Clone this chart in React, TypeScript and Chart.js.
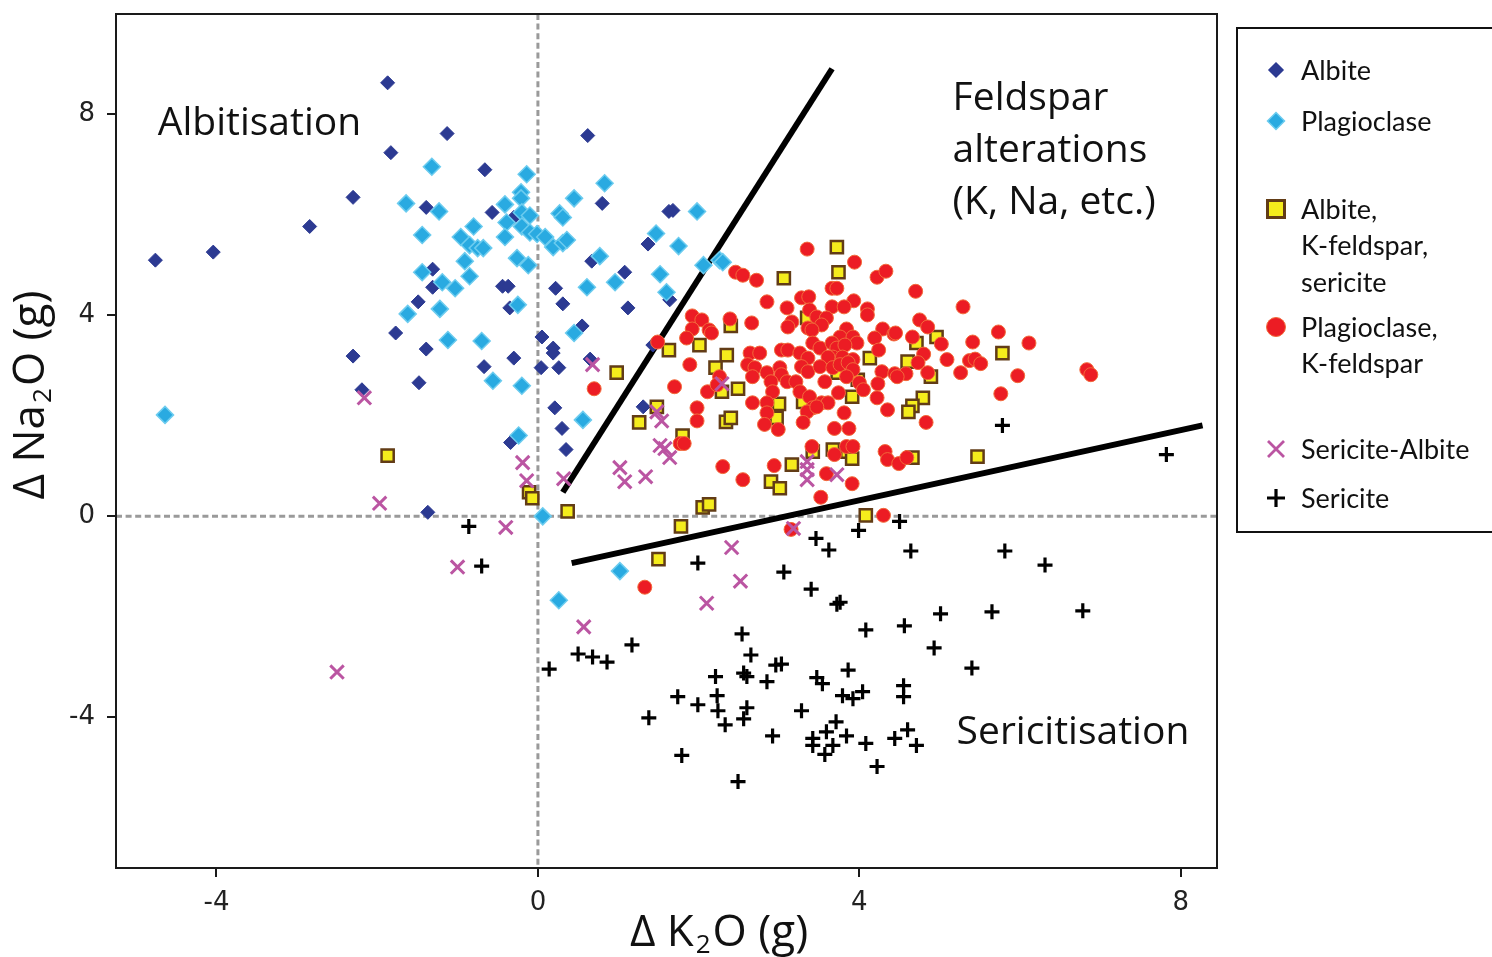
import React, { useEffect, useRef } from "react";
import { Chart, registerables } from "chart.js";

Chart.register(...registerables);

type P = [number, number];

const X_RANGE: P = [-5.25, 8.45];
const Y_RANGE: P = [-7, 10];
const X_TICKS = [-4, 0, 4, 8];
const Y_TICKS = [-4, 0, 4, 8];
const X_TITLE = ["Δ K", "2", "O (g)"];
const Y_TITLE = ["Δ Na", "2", "O (g)"];

const albite: P[] = [
  [-4.76, 5.1], [-4.04, 5.26], [-2.84, 5.77], [-2.3, 6.35], [-1.87, 8.63], [-1.83, 7.24], [-1.13, 7.62],
  [-1.39, 6.15], [-0.66, 6.9], [-0.57, 6.05], [-2.3, 3.19], [-2.19, 2.52], [-1.77, 3.65], [-1.49, 4.27],
  [-1.31, 4.92], [-1.39, 3.33], [-1.48, 2.66], [-1.37, 0.08], [-0.67, 2.98], [-0.3, 5.95], [-1.31, 4.56],
  [-0.44, 4.58], [-0.37, 4.58], [-0.35, 4.15], [0.62, 7.58], [0.8, 6.23], [1.63, 6.07], [1.68, 6.09],
  [1.37, 5.42], [0.67, 5.08], [1.08, 4.86], [0.22, 4.54], [0.31, 4.23], [1.12, 4.15], [1.64, 4.31],
  [0.05, 3.57], [0.19, 3.35], [0.19, 3.25], [0.55, 3.79], [-0.3, 3.15], [0.04, 2.96], [0.26, 2.96],
  [0.65, 3.13], [0.21, 2.16], [0.3, 1.75], [0.35, 1.33], [-0.34, 1.47], [1.31, 2.18], [1.43, 3.41],
];

const plagioclase: P[] = [
  [-1.64, 6.23], [-1.32, 6.96], [-0.14, 6.81], [-0.21, 6.45], [-0.21, 6.33], [-1.23, 6.07], [-0.41, 6.21],
  [-0.2, 6.05], [-0.1, 5.99], [-0.39, 5.85], [-0.2, 5.77], [-0.1, 5.65], [-0.01, 5.62], [0.09, 5.56],
  [0.19, 5.36], [0.31, 5.44], [0.36, 5.5], [0.27, 6.03], [0.31, 5.95], [0.45, 6.33], [0.83, 6.63],
  [1.98, 6.07], [1.47, 5.63], [1.75, 5.38], [-1.44, 5.6], [-0.8, 5.77], [-0.96, 5.56], [-0.85, 5.4],
  [-0.75, 5.34], [-0.68, 5.34], [-0.41, 5.56], [-0.26, 5.14], [-0.12, 5.0], [-0.91, 5.08], [0.77, 5.18],
  [-1.44, 4.86], [-0.85, 4.78], [-1.19, 4.66], [-1.03, 4.54], [0.61, 4.56], [0.96, 4.66], [1.52, 4.82],
  [1.6, 4.46], [-1.22, 4.13], [-0.25, 4.21], [-1.62, 4.03], [2.06, 5.0], [2.26, 5.1], [2.3, 5.06],
  [-1.12, 3.51], [-0.7, 3.49], [-0.56, 2.7], [-0.2, 2.6], [0.45, 3.65], [0.56, 1.92], [-0.24, 1.61],
  [0.06, 0.0], [1.02, -1.09], [0.26, -1.67], [-4.64, 2.02],
];

const albiteKfsSericite: P[] = [
  [3.72, 5.36], [3.74, 4.86], [3.06, 4.74], [2.4, 3.79], [3.35, 3.95], [1.63, 3.31], [2.01, 3.41],
  [2.35, 3.21], [2.21, 2.96], [2.49, 2.54], [2.29, 2.48], [3.0, 2.24], [2.97, 1.96], [3.3, 2.28],
  [2.34, 1.88], [2.4, 1.96], [4.13, 3.15], [3.73, 2.86], [3.98, 2.72], [3.91, 2.38], [1.8, 1.61],
  [1.48, 2.18], [1.26, 1.87], [3.16, 1.03], [3.42, 1.29], [3.67, 1.33], [3.85, 1.29], [3.91, 1.15],
  [2.9, 0.69], [3.01, 0.56], [4.71, 3.45], [4.96, 3.57], [4.6, 3.08], [4.89, 2.78], [4.79, 2.36],
  [4.66, 2.2], [4.61, 2.08], [5.78, 3.25], [4.66, 1.17], [5.47, 1.19], [-1.87, 1.21], [-0.11, 0.48],
  [-0.07, 0.36], [0.37, 0.1], [2.05, 0.18], [2.13, 0.24], [1.78, -0.2], [1.5, -0.85], [4.08, 0.02],
  [0.98, 2.86],
];

const plagioclaseKfs: P[] = [
  [3.35, 5.32], [3.94, 5.06], [4.22, 4.76], [4.33, 4.88], [2.46, 4.86], [2.55, 4.8], [2.72, 4.7],
  [2.85, 4.27], [3.1, 4.15], [3.28, 4.35], [3.37, 4.37], [3.66, 4.54], [3.72, 4.54], [3.93, 4.29],
  [3.66, 4.17], [3.81, 4.17], [4.1, 4.13], [4.1, 4.01], [1.92, 3.99], [2.04, 3.91], [2.39, 3.93],
  [2.66, 3.85], [3.16, 3.87], [3.11, 3.77], [3.38, 4.11], [3.47, 3.97], [3.59, 3.95], [3.36, 3.75],
  [3.53, 3.81], [3.41, 3.71], [3.84, 3.73], [3.76, 3.57], [3.92, 3.57], [3.97, 3.45], [4.29, 3.73],
  [4.19, 3.55], [4.24, 3.31], [4.43, 3.63], [1.92, 3.73], [1.85, 3.55], [2.13, 3.71], [2.16, 3.65],
  [3.42, 3.45], [3.51, 3.35], [3.66, 3.45], [3.72, 3.35], [3.82, 3.41], [3.67, 3.17], [3.79, 3.17],
  [3.61, 3.17], [3.92, 3.12], [3.03, 3.31], [3.11, 3.31], [3.26, 3.25], [3.36, 3.15], [2.64, 3.25],
  [2.76, 3.25], [2.61, 3.02], [2.7, 2.96], [2.85, 2.86], [3.01, 2.96], [3.03, 2.82], [3.28, 2.98],
  [3.36, 2.88], [3.51, 2.98], [3.67, 2.96], [3.76, 3.02], [3.86, 3.06], [3.92, 2.92], [4.0, 2.66],
  [3.84, 2.78], [4.28, 2.88], [4.23, 2.64], [4.22, 2.36], [4.44, 2.84], [4.35, 2.12], [2.67, 2.78],
  [2.9, 2.68], [3.1, 2.68], [3.21, 2.68], [3.26, 2.48], [3.57, 2.68], [3.74, 2.46], [2.92, 2.48],
  [3.38, 2.38], [3.53, 2.26], [3.42, 2.16], [3.35, 2.08], [3.61, 2.26], [3.81, 2.06], [2.67, 2.26],
  [2.85, 2.26], [2.85, 2.06], [2.82, 1.83], [2.99, 1.73], [3.3, 1.87], [3.69, 1.75], [3.87, 1.75],
  [1.89, 3.02], [1.7, 2.58], [2.11, 2.48], [2.26, 2.78], [2.23, 2.62], [1.98, 2.16], [1.98, 1.9],
  [1.77, 1.45], [1.82, 1.45], [1.49, 3.47], [3.41, 1.39], [3.69, 1.23], [3.84, 1.39], [3.92, 1.39],
  [4.32, 1.29], [4.35, 1.13], [2.94, 1.01], [2.3, 0.99], [2.55, 0.73], [3.91, 0.65], [4.7, 4.48],
  [5.29, 4.17], [4.75, 3.91], [4.85, 3.77], [4.45, 3.65], [4.66, 3.57], [5.02, 3.43], [5.41, 3.47],
  [5.73, 3.67], [6.11, 3.45], [4.8, 3.23], [5.09, 3.12], [5.37, 3.1], [5.44, 3.13], [5.51, 3.04],
  [4.73, 3.06], [4.58, 2.84], [4.47, 2.78], [4.85, 2.86], [5.26, 2.86], [5.97, 2.8], [4.05, 2.52],
  [5.76, 2.44], [6.83, 2.92], [6.88, 2.82], [4.83, 1.87], [4.49, 1.05], [4.59, 1.17], [0.7, 2.54],
  [3.47, 2.18], [4.3, 0.02], [3.15, -0.26], [1.33, -1.41], [3.52, 0.38], [3.59, 0.85],
];

const sericiteAlbite: P[] = [
  [-2.16, 2.36], [-1.97, 0.26], [-2.5, -3.1], [-1.0, -1.01], [-0.4, -0.22], [-0.19, 1.07], [-0.14, 0.71],
  [0.32, 0.75], [0.68, 3.02], [1.02, 0.97], [1.08, 0.69], [1.34, 0.79], [1.48, 2.08], [1.54, 1.9],
  [1.52, 1.41], [1.58, 1.35], [1.64, 1.17], [2.29, 2.64], [3.35, 1.09], [3.35, 0.93], [3.35, 0.73],
  [3.72, 0.83], [3.18, -0.24], [2.41, -0.62], [2.52, -1.29], [2.1, -1.73], [0.57, -2.2],
];

const sericite: P[] = [
  [-0.86, -0.2], [-0.7, -0.99], [0.14, -3.04], [0.5, -2.74], [0.68, -2.8], [0.86, -2.9], [1.17, -2.56],
  [1.38, -4.01], [1.74, -3.59], [1.99, -3.75], [1.99, -0.93], [2.21, -3.19], [2.23, -3.57], [2.24, -3.87],
  [2.33, -4.15], [1.79, -4.76], [2.54, -2.34], [2.65, -2.76], [2.56, -3.12], [2.6, -3.19], [2.85, -3.29],
  [2.96, -2.96], [2.6, -3.81], [2.56, -4.03], [2.92, -4.37], [2.49, -5.28], [3.06, -1.11], [3.4, -1.45],
  [3.46, -0.44], [3.62, -0.67], [3.72, -1.75], [3.76, -1.71], [3.99, -0.28], [4.5, -0.1], [4.64, -0.69],
  [5.78, 1.81], [7.82, 1.23], [5.81, -0.69], [6.31, -0.97], [6.78, -1.88], [5.65, -1.9], [5.01, -1.94],
  [4.08, -2.26], [4.56, -2.18], [4.93, -2.62], [5.4, -3.02], [3.86, -3.06], [3.03, -2.94], [3.47, -3.21],
  [3.54, -3.33], [3.79, -3.57], [3.92, -3.63], [4.04, -3.49], [4.55, -3.37], [4.55, -3.59], [3.28, -3.87],
  [3.71, -4.09], [3.42, -4.42], [3.59, -4.29], [3.84, -4.37], [3.42, -4.56], [3.67, -4.56], [3.57, -4.74],
  [4.08, -4.52], [4.44, -4.42], [4.6, -4.25], [4.71, -4.56], [4.22, -4.98],
];

const boundaryUpper: P[] = [[0.31, 0.48], [3.66, 8.91]];
const boundaryLower: P[] = [[0.42, -0.93], [8.27, 1.81]];

const regionLabels: { lines: string[]; at: P }[] = [
  { lines: ["Albitisation"], at: [-4.73, 7.6] },
  { lines: ["Feldspar", "alterations", "(K, Na, etc.)"], at: [5.16, 8.08] },
  { lines: ["Sericitisation"], at: [5.21, -4.54] },
];

const legendItems = [
  { kind: "albite", lines: ["Albite"] },
  { kind: "plag", lines: ["Plagioclase"] },
  { kind: "square", lines: ["Albite,", "K-feldspar,", "sericite"] },
  { kind: "circle", lines: ["Plagioclase,", "K-feldspar"] },
  { kind: "x", lines: ["Sericite-Albite"] },
  { kind: "plus", lines: ["Sericite"] },
];

const toXY = (arr: P[]) => arr.map(([x, y]) => ({ x, y }));

const STY = {
  albite: { fill: "#2c3a92", stroke: "#2c3a92" },
  plag: { fill: "#29aae1", stroke: "#6cccef" },
  square: { fill: "#f5ec1c", stroke: "#623c16" },
  circle: { fill: "#ec1c24", stroke: "#f26a3a" },
  x: { stroke: "#bb55a2" },
  plus: { stroke: "#000" },
};

function drawMarker(ctx: CanvasRenderingContext2D, kind: string, x: number, y: number) {
  ctx.save();
  ctx.beginPath();
  if (kind === "albite" || kind === "plag") {
    const r = kind === "albite" ? 7 : 8.5;
    ctx.moveTo(x, y - r); ctx.lineTo(x + r, y); ctx.lineTo(x, y + r); ctx.lineTo(x - r, y); ctx.closePath();
    const s = (STY as any)[kind];
    ctx.fillStyle = s.fill; ctx.fill();
    ctx.lineWidth = 1.5; ctx.strokeStyle = s.stroke; ctx.stroke();
  } else if (kind === "square") {
    const h = 8.5;
    ctx.rect(x - h, y - h, 2 * h, 2 * h);
    ctx.fillStyle = STY.square.fill; ctx.fill();
    ctx.lineWidth = 3; ctx.strokeStyle = STY.square.stroke; ctx.stroke();
  } else if (kind === "circle") {
    ctx.arc(x, y, 9.5, 0, Math.PI * 2);
    ctx.fillStyle = STY.circle.fill; ctx.fill();
    ctx.lineWidth = 1; ctx.strokeStyle = STY.circle.stroke; ctx.stroke();
  } else if (kind === "x") {
    const h = 8;
    ctx.moveTo(x - h, y - h); ctx.lineTo(x + h, y + h); ctx.moveTo(x + h, y - h); ctx.lineTo(x - h, y + h);
    ctx.lineWidth = 2.8; ctx.strokeStyle = STY.x.stroke; ctx.stroke();
  } else {
    const h = 9;
    ctx.moveTo(x - h, y); ctx.lineTo(x + h, y); ctx.moveTo(x, y - h); ctx.lineTo(x, y + h);
    ctx.lineWidth = 3.2; ctx.strokeStyle = "#000"; ctx.stroke();
  }
  ctx.restore();
}

function drawSubTitle(ctx: CanvasRenderingContext2D, parts: string[], size: number) {
  const subSize = Math.round(size * 0.58);
  const fonts = parts.map((_, i) => `${i % 2 ? subSize : size}px "Open Sans"`);
  const widths = parts.map((p, i) => { ctx.font = fonts[i]; return ctx.measureText(p).width; });
  const total = widths.reduce((a, b) => a + b, 0) + 4;
  let cx = -total / 2;
  parts.forEach((p, i) => {
    ctx.font = fonts[i];
    ctx.fillText(p, cx + (i % 2 ? 2 : 0), i % 2 ? 7 : 0);
    cx += widths[i] + (i % 2 ? 4 : 0);
  });
}

const overlayPlugin = {
  id: "overlay",
  beforeDatasetsDraw(chart: any) {
    const { ctx, chartArea: a, scales } = chart;
    const x0 = scales.x.getPixelForValue(0);
    const y0 = scales.y.getPixelForValue(0);
    ctx.save();
    ctx.strokeStyle = "#9a9a9a";
    ctx.lineWidth = 3;
    ctx.setLineDash([6, 3.6]);
    ctx.beginPath();
    ctx.moveTo(x0, a.top); ctx.lineTo(x0, a.bottom);
    ctx.moveTo(a.left, y0); ctx.lineTo(a.right, y0);
    ctx.stroke();
    ctx.restore();
  },
  afterDraw(chart: any) {
    const { ctx, chartArea: a, scales } = chart;
    ctx.save();
    // frame
    ctx.strokeStyle = "#1a1a1a";
    ctx.lineWidth = 2;
    ctx.strokeRect(a.left, a.top, a.right - a.left, a.bottom - a.top);

    // region labels
    ctx.fillStyle = "#111";
    ctx.font = '39px "Open Sans"';
    ctx.textAlign = "left";
    ctx.textBaseline = "alphabetic";
    regionLabels.forEach((r) => {
      const px = scales.x.getPixelForValue(r.at[0]);
      const py = scales.y.getPixelForValue(r.at[1]);
      r.lines.forEach((l, i) => ctx.fillText(l, px, py + i * 52));
    });

    // axis titles
    ctx.fillStyle = "#111";
    ctx.save();
    ctx.translate(719, 946);
    drawSubTitle(ctx, X_TITLE, 44);
    ctx.restore();
    ctx.save();
    ctx.translate(44, 395);
    ctx.rotate(-Math.PI / 2);
    drawSubTitle(ctx, Y_TITLE, 44);
    ctx.restore();

    // legend
    ctx.lineWidth = 2;
    ctx.strokeStyle = "#111";
    ctx.strokeRect(1237, 28, 300, 504);
    const rows = [70, 121, 209, 327, 449, 498];
    const lineH = 36.5;
    ctx.font = '27px Lato';
    ctx.fillStyle = "#111";
    ctx.textBaseline = "middle";
    legendItems.forEach((it, i) => {
      drawMarker(ctx, it.kind, 1276, rows[i]);
      it.lines.forEach((l, j) => ctx.fillText(l, 1301, rows[i] + j * lineH + 1));
    });
    ctx.restore();
  },
};

export default function App() {
  const ref = useRef<HTMLCanvasElement>(null);
  useEffect(() => {
    if (!ref.current) return;
    const tickFont = { family: '"DejaVu Sans"', size: 26 };
    const chart = new Chart(ref.current, {
      type: "scatter",
      data: {
        datasets: [
          {
            label: "Sericite", data: toXY(sericite), pointStyle: "cross", pointRadius: 7.5,
            borderColor: "#000", backgroundColor: "#000", pointBorderWidth: 3.2, borderWidth: 3.2,
          },
          {
            label: "Sericite-Albite", data: toXY(sericiteAlbite), pointStyle: "crossRot", pointRadius: 9.5,
            borderColor: STY.x.stroke, backgroundColor: STY.x.stroke, pointBorderWidth: 3, borderWidth: 3,
          },
          {
            label: "Plagioclase, K-feldspar", data: toXY(plagioclaseKfs), pointStyle: "circle", pointRadius: 7,
            backgroundColor: STY.circle.fill, borderColor: STY.circle.stroke, pointBorderWidth: 1, borderWidth: 1,
          },
          {
            label: "Albite, K-feldspar, sericite", data: toXY(albiteKfsSericite), pointStyle: "rect", pointRadius: 8.6,
            backgroundColor: STY.square.fill, borderColor: STY.square.stroke, pointBorderWidth: 2.5, borderWidth: 2.5,
          },
          {
            label: "Plagioclase", data: toXY(plagioclase), pointStyle: "rectRot", pointRadius: 8.5,
            backgroundColor: STY.plag.fill, borderColor: STY.plag.stroke, pointBorderWidth: 1.5, borderWidth: 1.5,
          },
          {
            label: "Albite", data: toXY(albite), pointStyle: "rectRot", pointRadius: 7,
            backgroundColor: STY.albite.fill, borderColor: STY.albite.stroke, pointBorderWidth: 1, borderWidth: 1,
          },
          {
            label: "upper boundary", data: toXY(boundaryUpper), showLine: true, pointRadius: 0,
            borderColor: "#000", borderWidth: 6,
          },
          {
            label: "lower boundary", data: toXY(boundaryLower), showLine: true, pointRadius: 0,
            borderColor: "#000", borderWidth: 6,
          },
        ],
      },
      options: {
        responsive: false,
        animation: false,
        events: [],
        layout: { padding: { top: 14, right: 275, left: 0, bottom: 0 } },
        plugins: { legend: { display: false }, tooltip: { enabled: false } },
        scales: {
          x: {
            type: "linear", min: X_RANGE[0], max: X_RANGE[1],
            afterBuildTicks: (s: any) => { s.ticks = X_TICKS.map((v) => ({ value: v })); },
            afterFit: (s: any) => { s.height = 89; s.paddingLeft = 0; s.paddingRight = 0; },
            grid: { drawOnChartArea: false, drawTicks: true, tickLength: 9, color: "#1a1a1a", lineWidth: 2 },
            border: { display: true, color: "#1a1a1a", width: 2 },
            ticks: { font: tickFont, color: "#222", padding: 11, maxRotation: 0 },
          },
          y: {
            type: "linear", min: Y_RANGE[0], max: Y_RANGE[1],
            afterBuildTicks: (s: any) => { s.ticks = Y_TICKS.map((v) => ({ value: v })); },
            afterFit: (s: any) => { s.width = 116; s.paddingTop = 0; s.paddingBottom = 0; },
            grid: { drawOnChartArea: false, drawTicks: true, tickLength: 9, color: "#1a1a1a", lineWidth: 2 },
            border: { display: true, color: "#1a1a1a", width: 2 },
            ticks: { font: tickFont, color: "#222", padding: 12 },
          },
        },
      },
      plugins: [overlayPlugin],
    } as any);
    return () => chart.destroy();
  }, []);
  return (
    <div style={{ position: "absolute", left: 0, top: 0, width: 1492, height: 957, background: "#fff" }}>
      <canvas ref={ref} width={1492} height={957} style={{ display: "block" }} />
    </div>
  );
}
